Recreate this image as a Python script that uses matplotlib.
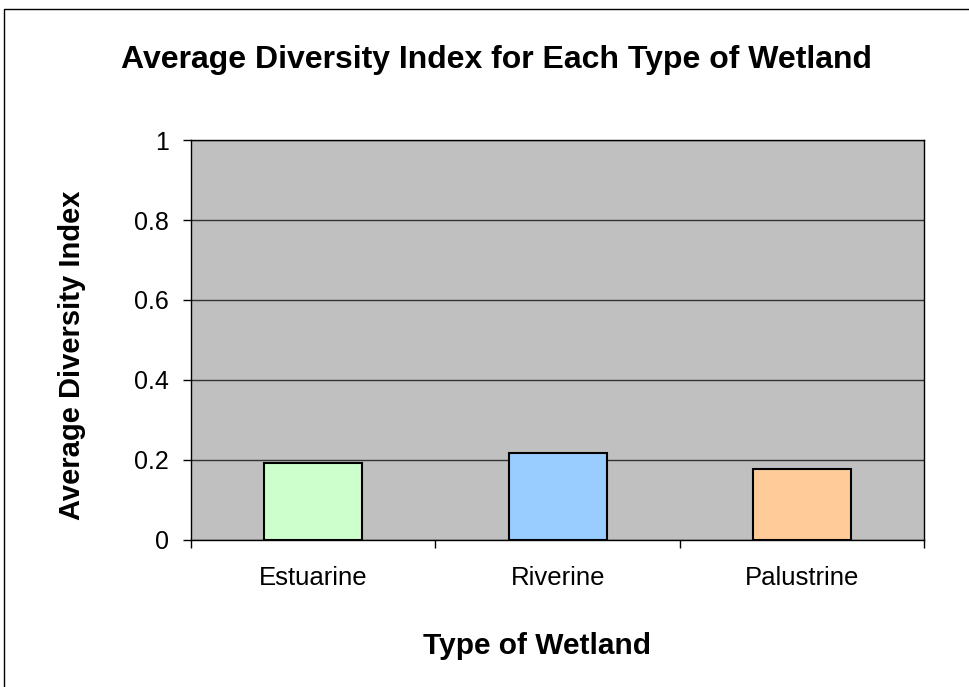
import matplotlib.pyplot as plt
from matplotlib.patches import Rectangle
from matplotlib.ticker import FixedLocator, NullFormatter

categories = ['Estuarine', 'Riverine', 'Palustrine']
values = [0.193, 0.218, 0.178]
colors = ['#CCFFCC', '#99CCFF', '#FFCC99']
y_ticks = [0, 0.2, 0.4, 0.6, 0.8, 1]
y_tick_labels = ['0', '0.2', '0.4', '0.6', '0.8', '1']

plt.rcParams['font.family'] = ['Liberation Sans', 'DejaVu Sans']

fig = plt.figure(figsize=(9.7, 6.87), dpi=100)
ax = fig.add_axes([0.1969, 0.2140, 0.7560, 0.5822])
ax.set_facecolor('#C0C0C0')

x = range(len(categories))
ax.bar(x, values, width=0.4, color=colors, edgecolor='black', linewidth=1.5, zorder=3)

ax.set_xlim(-0.5, len(categories) - 0.5)
ax.set_ylim(0, 1)
ax.set_yticks(y_ticks)
ax.set_yticklabels(y_tick_labels, fontsize=18)
ax.yaxis.grid(True, color='#333333', linewidth=1.0, zorder=1)

# category labels without ticks, ticks between categories
ax.set_xticks(list(x))
ax.set_xticklabels(categories, fontsize=18.5)
ax.tick_params(axis='x', which='major', length=0, pad=19)
ax.xaxis.set_minor_locator(FixedLocator([-0.5, 0.5, 1.5, 2.5]))
ax.xaxis.set_minor_formatter(NullFormatter())
ax.tick_params(axis='x', which='minor', length=6, width=1, direction='out')
ax.tick_params(axis='y', length=6, width=1, direction='out', pad=10)

for side in ['left', 'bottom', 'top', 'right']:
    ax.spines[side].set_color('black')
    ax.spines[side].set_linewidth(1.0)

ax.set_ylabel('Average Diversity Index', fontsize=21, fontweight='bold', va='center')
ax.yaxis.set_label_coords(-0.1616, 0.4625)
ax.set_xlabel('Type of Wetland', fontsize=21.5, fontweight='bold', va='center')
ax.xaxis.set_label_coords(0.472, -0.265)

fig.text(0.512, 1 - 60 / 687, 'Average Diversity Index for Each Type of Wetland',
         ha='center', va='center', fontsize=23, fontweight='bold')

# chart area border
fig.patches.append(Rectangle((4 / 970, -0.05), 1.1, 1 - 9 / 687 + 0.05,
                             transform=fig.transFigure, fill=False,
                             edgecolor='black', linewidth=1.0))

fig.savefig('out.png', dpi=100)
